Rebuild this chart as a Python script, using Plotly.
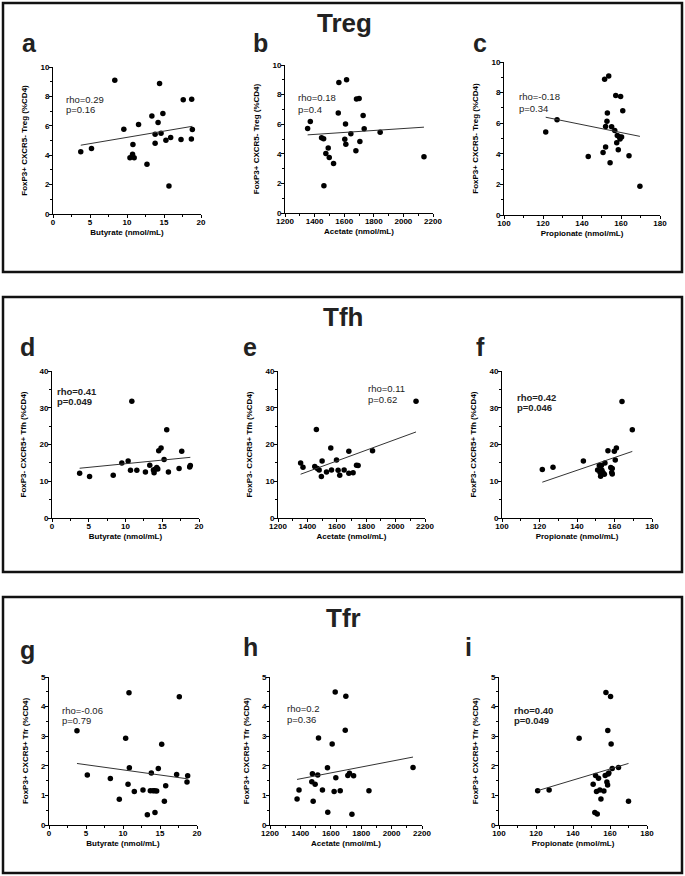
import plotly.graph_objects as go

W, H = 685, 876
FONT = "Arial, Liberation Sans, sans-serif"

# ---------------- data ----------------
a_butyrate = [3.75, 5.2, 8.35, 9.57, 10.4, 10.75, 10.8, 10.97, 11.56, 12.7, 13.36, 13.8, 13.8,
              14.2, 14.4, 14.6, 14.85, 15.26, 15.67, 15.9, 17.3, 17.6, 18.74, 18.7, 18.83]
a_treg = [4.23, 4.46, 9.1, 5.77, 3.82, 4.07, 4.73, 3.82, 6.09, 3.39, 6.67, 4.82, 5.43,
          6.22, 8.87, 5.5, 6.83, 5.02, 1.9, 5.2, 5.07, 7.78, 7.8, 5.11, 5.75]

b_acetate = [1353, 1371, 1447, 1461, 1463, 1476, 1492, 1499, 1528, 1560, 1564, 1604, 1609,
             1611, 1616, 1645, 1679, 1683, 1701, 1706, 1728, 1735, 1843, 2139]
b_treg = [5.71, 6.18, 5.08, 5.01, 1.84, 4.02, 4.40, 3.75, 3.35, 6.76, 8.81, 4.99, 6.02,
          4.65, 9.01, 5.35, 4.20, 7.71, 7.73, 4.83, 6.58, 5.69, 5.46, 3.80]

c_propionate = [121.4, 127.2, 143.2, 150.8, 151.6, 152.1, 152.1, 152.8, 153.0, 153.7, 154.4, 155.2,
                156.8, 157.3, 157.8, 158.1, 158.6, 159.1, 159.5, 160.3, 159.8, 160.9, 164.1, 169.7]
c_treg = [5.43, 6.23, 3.83, 4.09, 8.87, 4.44, 5.78, 6.13, 6.67, 9.09, 3.42, 5.76,
          5.52, 7.81, 4.72, 5.19, 4.26, 5.11, 4.96, 5.09, 7.75, 6.82, 3.87, 1.88]

d_butyrate = [3.76, 5.11, 8.33, 9.50, 10.36, 10.68, 10.86, 11.54, 12.71, 13.30, 13.8, 13.89,
              14.03, 14.25, 14.39, 14.52, 14.84, 15.25, 15.61, 15.84, 17.29, 17.65, 18.73, 18.82]
d_tfh = [12.19, 11.29, 11.65, 14.99, 15.53, 13.0, 31.78, 13.0, 12.55, 14.36, 13.09, 12.28,
         13.27, 13.72, 13.36, 18.33, 19.05, 15.89, 24.02, 12.55, 13.45, 18.15, 13.9, 14.27]

e_acetate = [1354, 1370, 1450, 1461, 1468, 1480, 1495, 1500, 1530, 1559, 1564, 1598,
             1609, 1620, 1650, 1682, 1682, 1711, 1734, 1745, 1843, 2139]
e_tfh = [14.99, 13.81, 14.0, 24.1, 13.45, 13.09, 11.29, 15.53, 12.55, 19.05, 13.09, 15.8,
         13.0, 11.65, 13.09, 18.15, 12.19, 12.28, 14.36, 14.27, 18.33, 31.78]

f_propionate = [121.5, 127.2, 143.4, 151.0, 151.9, 152.3, 152.6, 153.0, 153.3, 153.9, 154.6,
                154.9, 156.5, 158.0, 158.5, 158.8, 158.8, 159.9, 160.4, 161.0, 164.0, 169.5]
f_tfh = [13.18, 13.81, 15.53, 13.09, 14.27, 12.37, 11.38, 14.27, 13.0, 12.28, 11.92,
         14.99, 18.33, 13.72, 12.37, 13.45, 12.0, 18.15, 15.8, 19.05, 31.69, 24.02]

g_butyrate = [3.78, 5.18, 8.29, 9.50, 10.36, 10.68, 10.81, 10.86, 11.53, 12.70, 13.29, 13.69,
              13.83, 14.05, 14.28, 14.32, 14.55, 14.77, 15.23, 15.59, 15.77, 17.25, 17.61, 18.65, 18.74]
g_tfr = [3.18, 1.69, 1.57, 0.87, 2.93, 1.38, 4.47, 1.93, 1.13, 1.18, 0.35, 1.16,
         1.76, 1.16, 1.16, 0.42, 1.15, 1.91, 2.73, 0.80, 1.33, 1.71, 4.33, 1.45, 1.66]

h_acetate = [1378, 1391, 1475, 1479, 1484, 1497, 1514, 1519, 1545, 1578, 1580, 1609,
             1622, 1629, 1633, 1662, 1695, 1699, 1712, 1723, 1739, 1750, 1851, 2141]
h_tfr = [0.88, 1.18, 1.46, 1.73, 0.80, 1.38, 1.69, 2.94, 1.18, 1.93, 0.43, 2.74,
         1.13, 4.49, 1.60, 1.16, 3.20, 4.35, 1.67, 1.75, 0.36, 1.66, 1.16, 1.94]

i_propionate = [120.9, 127.1, 143.3, 150.9, 151.8, 152.2, 152.7, 153.1, 153.8, 154.5, 155.1, 156.7,
                157.4, 157.8, 158.3, 158.7, 158.8, 159.0, 159.4, 160.3, 160.6, 161.2, 164.6, 170.0]
i_tfr = [1.16, 1.18, 2.93, 1.38, 0.42, 1.67, 1.13, 0.37, 1.58, 1.18, 0.88, 1.15,
         1.67, 4.48, 1.45, 1.35, 3.19, 1.72, 1.76, 4.34, 2.74, 1.91, 1.94, 0.80]

# regression lines (slope, intercept)
fit_slope = [0.0853, 0.000662, -0.02587, 0.197, 0.01466, 0.1743, -0.0347, 0.000991, 0.01874]
fit_intercept = [4.36, 4.384, 9.53, 12.80, -7.94, -11.43, 2.21, 0.174, -1.106]

rho_labels = ["rho=0.29", "rho=0.18", "rho=-0.18", "rho=0.41", "rho=0.11", "rho=0.42",
              "rho=-0.06", "rho=0.2", "rho=0.40"]
p_labels = ["p=0.16", "p=0.4", "p=0.34", "p=0.049", "p=0.62", "p=0.046",
            "p=0.79", "p=0.36", "p=0.049"]
significant = [False, False, False, True, False, True, False, False, True]

panel_letters = ["a", "b", "c", "d", "e", "f", "g", "h", "i"]
section_titles = ["Treg", "Tfh", "Tfr"]

x_titles = ["Butyrate (nmol/mL)", "Acetate (nmol/mL)", "Propionate (nmol/mL)"]
y_titles = ["FoxP3+ CXCR5- Treg (%CD4)", "FoxP3- CXCR5+ Tfh (%CD4)", "FoxP3+ CXCR5+ Tfr (%CD4)"]

x_ranges = [[0, 20], [1200, 2200], [100, 180]]
x_major = [[0, 5, 10, 15, 20], [1200, 1400, 1600, 1800, 2000, 2200], [100, 120, 140, 160, 180]]
x_minor = [[2.5, 7.5, 12.5, 17.5], [1300, 1500, 1700, 1900, 2100], [110, 130, 150, 170]]
y_ranges = [[0, 10], [0, 40], [0, 5]]
y_major = [[0, 2, 4, 6, 8, 10], [0, 10, 20, 30, 40], [0, 1, 2, 3, 4, 5]]
y_minor = [[1, 3, 5, 7, 9], [5, 15, 25, 35], [0.5, 1.5, 2.5, 3.5, 4.5]]

# label positions (data coords) for rho / p
rho_pos = [(1.6, 7.8), (1283, 7.78), (107.4, 7.75), (0.6, 34.5), (1807, 35.2), (107.6, 32.8),
           (1.67, 3.87), (1305, 3.92), (107.8, 3.88)]
p_pos = [(1.6, 7.13), (1283, 7.0), (107.4, 6.99), (0.6, 31.8), (1807, 32.2), (107.6, 30.0),
         (1.67, 3.54), (1305, 3.56), (107.8, 3.54)]

xs = [a_butyrate, b_acetate, c_propionate, d_butyrate, e_acetate, f_propionate,
      g_butyrate, h_acetate, i_propionate]
ys = [a_treg, b_treg, c_treg, d_tfh, e_tfh, f_tfh, g_tfr, h_tfr, i_tfr]

# ---------------- layout geometry (pixels) ----------------
plot_px = [  # x0, x1, y0(top), y1(bottom)
    (53, 201, 67, 214), (285, 433, 65, 213), (504, 660, 62, 215),
    (52, 199, 371, 518), (278, 425, 371, 518), (502, 652, 371, 518),
    (49, 197, 677, 825), (270, 422, 677, 825), (499, 647, 677, 825),
]
letter_px = [(29, 43), (260, 43), (480, 43), (27, 347), (250, 347), (480, 347),
             (27, 650), (250, 647), (468, 647)]
title_px = [(344, 23), (343, 317), (343, 618)]
box_px = [(3, 682, 3, 272), (3, 682, 297, 572), (3, 682, 597, 873)]


def px_x(v):
    return v / W


def px_y(v):
    return 1 - v / H


fig = go.Figure()
layout = dict(
    width=W, height=H, margin=dict(l=0, r=0, t=0, b=0, pad=0, autoexpand=False),
    paper_bgcolor="white", plot_bgcolor="white", showlegend=False,
    font=dict(family=FONT, color="black"),
    annotations=[], shapes=[],
)

for k in range(9):
    n = k + 1
    row, col = k // 3, k % 3
    x0, x1, yt, yb = plot_px[k]
    xa, ya = f"x{n}", f"y{n}"

    fig.add_trace(go.Scatter(
        x=xs[k], y=ys[k], mode="markers", xaxis=xa, yaxis=ya,
        marker=dict(size=5.5, color="black"), cliponaxis=False, hoverinfo="skip",
    ))
    lx = [min(xs[k]), max(xs[k])]
    ly = [fit_intercept[k] + fit_slope[k] * v for v in lx]
    fig.add_trace(go.Scatter(
        x=lx, y=ly, mode="lines", xaxis=xa, yaxis=ya,
        line=dict(color="#333333", width=1), cliponaxis=False, hoverinfo="skip",
    ))

    common = dict(
        automargin=False,
        ticks="outside", ticklen=3, tickwidth=1, tickcolor="black",
        showline=True, linecolor="black", linewidth=1, showgrid=False, zeroline=False,
        tickfont=dict(size=8, family=FONT, color="black", weight="bold"),
    )
    layout[f"xaxis{n}"] = dict(
        common, domain=[px_x(x0), px_x(x1)], anchor=ya, range=x_ranges[col],
        tickmode="array", tickvals=x_major[col], ticklabelstandoff=-3,
        minor=dict(tickmode="array", tickvals=x_minor[col], ticks="outside", ticklen=2,
                   tickcolor="black", tickwidth=1, showgrid=False),
        title=dict(text=x_titles[col], standoff=3,
                   font=dict(size=8, family=FONT, color="black", weight="bold")),
    )
    layout[f"yaxis{n}"] = dict(
        common, domain=[px_y(yb), px_y(yt)], anchor=xa, range=y_ranges[row],
        tickmode="array", tickvals=y_major[row], ticklabelstandoff=-2,
        minor=dict(tickmode="array", tickvals=y_minor[row], ticks="outside", ticklen=2,
                   tickcolor="black", tickwidth=1, showgrid=False),
        title=dict(text=y_titles[row], standoff=11,
                   font=dict(size=8, family=FONT, color="black", weight="bold")),
    )

    wt = "bold" if significant[k] else "normal"
    for txt, (ax_, ay_) in ((rho_labels[k], rho_pos[k]), (p_labels[k], p_pos[k])):
        layout["annotations"].append(dict(
            text=txt, x=ax_, y=ay_, xref=xa, yref=ya, xanchor="left", yanchor="middle",
            showarrow=False, borderpad=0,
            font=dict(size=9.5, family=FONT, color="#222", weight=wt),
        ))

    lx_, ly_ = letter_px[k]
    layout["annotations"].append(dict(
        text=panel_letters[k], x=px_x(lx_), y=px_y(ly_), xref="paper", yref="paper",
        xanchor="center", yanchor="middle", showarrow=False,
        font=dict(size=25, family=FONT, color="#222", weight="bold"),
    ))

for s in range(3):
    tx, ty = title_px[s]
    layout["annotations"].append(dict(
        text=section_titles[s], x=px_x(tx), y=px_y(ty), xref="paper", yref="paper",
        xanchor="center", yanchor="middle", showarrow=False,
        font=dict(size=26, family=FONT, color="#222", weight="bold"),
    ))
    bx0, bx1, by0, by1 = box_px[s]
    layout["shapes"].append(dict(
        type="rect", xref="paper", yref="paper",
        x0=px_x(bx0), x1=px_x(bx1), y0=px_y(by1), y1=px_y(by0),
        line=dict(color="#111", width=2.5), fillcolor="rgba(0,0,0,0)",
    ))

fig.update_layout(**layout)
fig.write_html(
    "out.html",
    config={"displayModeBar": False},
    post_script="document.body.style.margin='0';document.body.style.overflow='hidden';",
)
